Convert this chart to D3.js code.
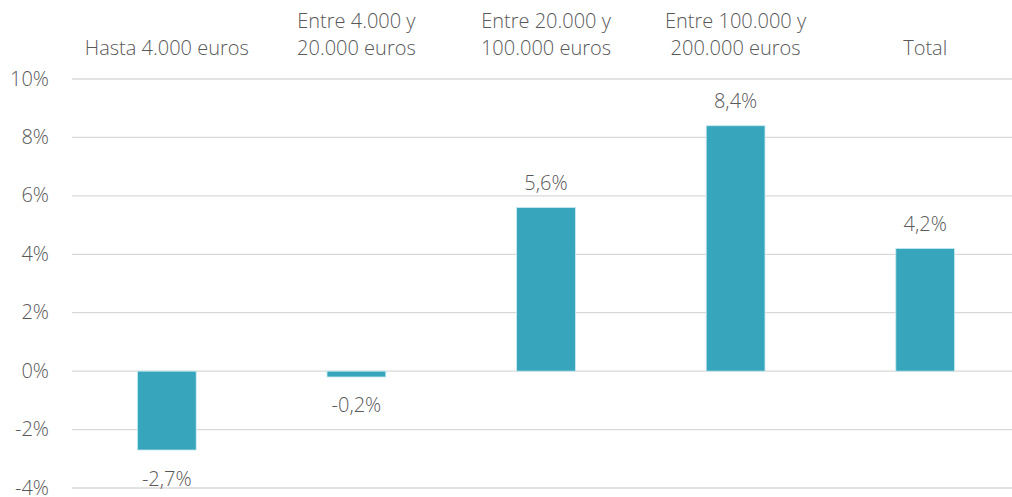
<!DOCTYPE html>
<html>
<head>
<meta charset="utf-8">
<script src="https://cdn.jsdelivr.net/npm/d3@7"></script>
<style>
  body { margin: 0; background: #fff; }
  svg { display: block; font-family: "Open Sans", Lato, sans-serif; font-weight: 300; }
</style>
</head>
<body>
<svg width="1012" height="497"></svg>
<script>
// data
var categories = [
  ["Hasta 4.000 euros"],
  ["Entre 4.000 y", "20.000 euros"],
  ["Entre 20.000 y", "100.000 euros"],
  ["Entre 100.000 y", "200.000 euros"],
  ["Total"]
];
var values = [-2.7, -0.2, 5.6, 8.4, 4.2];
var yTicks = [-4, -2, 0, 2, 4, 6, 8, 10];

var svg = d3.select("svg");
var margin = { left: 72, right: -8, top: 79, bottom: 9 };
var width = 1012, height = 497;
var textColor = "#595959";
var barColor = "#37A6BD";
var fontSize = "20px";

var x = d3.scaleBand()
    .domain(d3.range(values.length))
    .range([margin.left, width - margin.right])
    .paddingInner(0.69)
    .paddingOuter(0.345);

var y = d3.scaleLinear()
    .domain([-4, 10])
    .range([height - margin.bottom, margin.top]);

var fmt = function (v) { return String(v).replace(".", ",") + "%"; };

// gridlines
svg.append("g")
    .selectAll("line")
    .data(yTicks)
    .enter().append("line")
    .attr("x1", margin.left)
    .attr("x2", width)
    .attr("y1", d => y(d))
    .attr("y2", d => y(d))
    .attr("stroke", "#d9d9d9")
    .attr("stroke-width", 1.3);

// y tick labels
svg.append("g")
    .selectAll("text")
    .data(yTicks)
    .enter().append("text")
    .attr("x", 49)
    .attr("y", d => y(d) - 1)
    .attr("text-anchor", "end")
    .attr("dominant-baseline", "central")
    .attr("fill", textColor)
    .style("font-size", fontSize)
    .text(d => d + "%");

// bars
svg.append("g")
    .selectAll("rect")
    .data(values)
    .enter().append("rect")
    .attr("x", (d, i) => x(i))
    .attr("width", x.bandwidth())
    .attr("y", d => y(Math.max(0, d)))
    .attr("height", d => Math.abs(y(d) - y(0)))
    .attr("fill", barColor)
    .attr("stroke", "#c8eaf0")
    .attr("stroke-width", 0.8);

// value labels
svg.append("g")
    .selectAll("text")
    .data(values)
    .enter().append("text")
    .attr("x", (d, i) => x(i) + x.bandwidth() / 2)
    .attr("y", d => d >= 0 ? y(d) - 25 : y(d) + 28)
    .attr("text-anchor", "middle")
    .attr("dominant-baseline", "central")
    .attr("fill", textColor)
    .style("font-size", fontSize)
    .text(fmt);

// category labels on top
var cat = svg.append("g")
    .selectAll("text")
    .data(categories)
    .enter().append("text")
    .attr("x", (d, i) => x(i) + x.bandwidth() / 2)
    .attr("text-anchor", "middle")
    .attr("fill", textColor)
    .style("font-size", fontSize);

cat.selectAll("tspan")
    .data(d => d.map((t, j) => ({ t: t, j: j, n: d.length })))
    .enter().append("tspan")
    .attr("x", function () { return d3.select(this.parentNode).attr("x"); })
    .attr("y", d => 47 - (d.n - 1 - d.j) * 27)
    .attr("dominant-baseline", "central")
    .text(d => d.t);
</script>
</body>
</html>
